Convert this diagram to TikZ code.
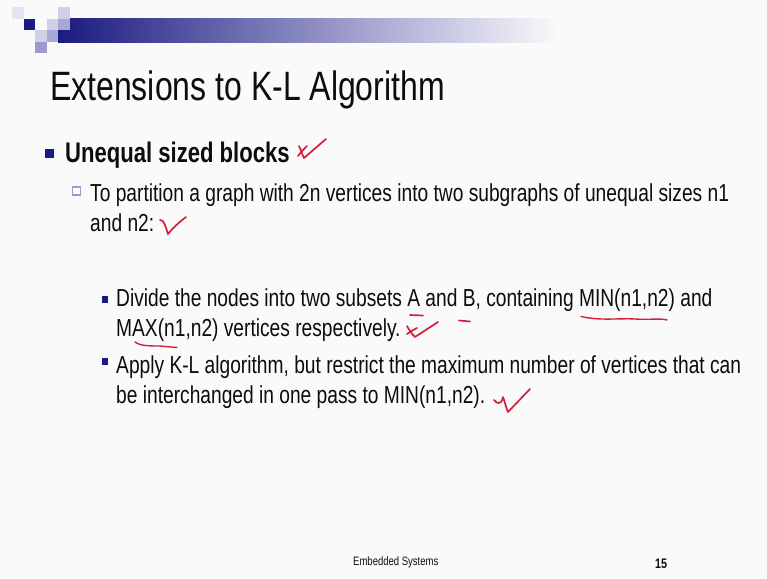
\documentclass[tikz,border=0pt]{standalone}
\usepackage{fontspec}
\setmainfont[FakeStretch=0.78]{Liberation Sans}

\definecolor{navy}{HTML}{1A1A80}
\definecolor{lav}{HTML}{9A9ACC}
\definecolor{lavlight}{HTML}{CFCFE8}
\definecolor{lavpale}{HTML}{E4E4F2}
\definecolor{lavmid}{HTML}{A8A8D6}
\definecolor{barend}{HTML}{B4B4DA}
\definecolor{inkred}{HTML}{D2203A}
\definecolor{slidebg}{HTML}{FAFAFA}

\tikzset{
  txt/.style={anchor=base west, inner sep=0pt, text=black!95},
  bulA/.style={fill=navy, inner sep=0pt, minimum size=9pt},
  bulB/.style={draw=lav, line width=1.2pt, fill=white, inner sep=0pt, minimum size=8pt},
  bulC/.style={fill=navy, inner sep=0pt, minimum width=6pt, minimum height=7pt},
  pen/.style={draw=inkred, line width=1.7pt, line cap=round, line join=round},
}

\begin{document}
\begin{tikzpicture}[x=1pt,y=-1pt]
\useasboundingbox (0,0) rectangle (767,578);
\fill[slidebg] (0,0) rectangle (767,578);

% template squares and fading bar, top left
\shade[left color=navy, right color=barend] (58,19) rectangle (400,42.5);
\shade[left color=barend, right color=slidebg] (399.5,19) rectangle (560,42.5);
\fill[lavpale] (12,7.5) rectangle ++(11.5,11.5);
\fill[lavlight] (58,7.5) rectangle ++(11.5,11.5);
\fill[navy] (23.5,19) rectangle ++(11.5,11.5);
\fill[lavlight] (46.5,19) rectangle ++(11.5,11.5);
\fill[lavmid] (58,19) rectangle ++(11.5,11.5);
\fill[lavlight] (35,30.5) rectangle ++(11.5,11.5);
\fill[lavmid] (46.5,30.5) rectangle ++(11.5,11.5);
\fill[lav] (35,42) rectangle ++(11.5,11.5);

% title
\node[txt, font=\fontsize{41}{45}\selectfont] (title) at (50,100) {Extensions to K-L Algorithm};

% level 1
\node[bulA] (b1) at (49,153) {};
\node[txt, font=\fontsize{28.3}{32}\selectfont\bfseries] (blocks) at (65,162) {Unequal sized blocks};

% level 2
\node[bulB] (b2) at (76.5,191) {};
\node[txt, font=\fontsize{24.6}{29}\selectfont] (part1) at (90,201) {To partition a graph with 2n vertices into two subgraphs of unequal sizes n1};
\node[txt, font=\fontsize{24.6}{29}\selectfont] (part2) at (90,231) {and n2:};

% level 3
\node[bulC] (b3) at (105,299.5) {};
\node[txt, font=\fontsize{24.6}{29}\selectfont] (div1) at (116,306) {Divide the nodes into two subsets A and B, containing MIN(n1,n2) and};
\node[txt, font=\fontsize{24.6}{29}\selectfont] (div2) at (116,336) {MAX(n1,n2) vertices respectively.};
\node[bulC] (b4) at (105,361.5) {};
\node[txt, font=\fontsize{24.6}{29}\selectfont] (app1) at (116,373) {Apply K-L algorithm, but restrict the maximum number of vertices that can};
\node[txt, font=\fontsize{24.6}{29}\selectfont] (app2) at (116,403) {be interchanged in one pass to MIN(n1,n2).};

% footer
\node[txt, font=\fontsize{12.2}{14}\selectfont] (foot) at (353,565) {Embedded Systems};
\node[txt, font=\fontsize{13.8}{16}\selectfont\bfseries] (pnum) at (655,568) {15};

% hand-drawn ticks and underlines
\draw[pen] (299,146) .. controls (301,150) and (302,154) .. (304,158) -- (326,139);
\draw[pen] (298,156) .. controls (301,152) and (304,149) .. (307,146);
\draw[pen] (160,220) .. controls (164,219) and (166,228) .. (168,234) .. controls (172,229) and (178,223) .. (186,217);
\draw[pen] (410,315) -- (423,315.5);
\draw[pen] (407,326) .. controls (409,330) and (412,334) .. (415,337) -- (438,322);
\draw[pen] (407,334) .. controls (410,332) and (413,330) .. (417,328);
\draw[pen] (459,320.5) -- (470,321.5);
\draw[pen] (494,400) .. controls (497,403) and (500,406) .. (503,398);
\draw[pen] (503,397) .. controls (505,402) and (506,408) .. (508,412) -- (530,389);
\draw[pen, line width=1.4pt] (581,316.5) .. controls (600,321) and (620,318) .. (635,319) .. controls (650,320) and (660,318) .. (667,320);
\draw[pen, line width=1.4pt] (135,342) .. controls (140,346) and (150,346) .. (160,346) -- (177,347.5);
\end{tikzpicture}
\end{document}
